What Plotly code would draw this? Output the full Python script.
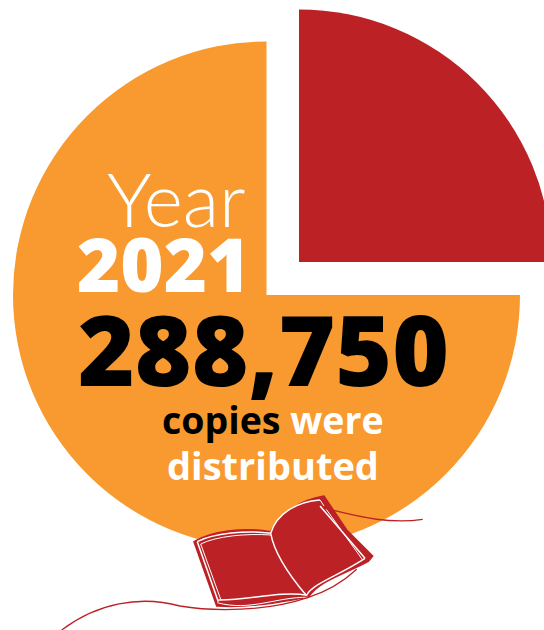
import plotly.graph_objects as go

# Chart data
slice_labels = ["Highlighted quarter", "Rest of the year"]
slice_shares = [25, 75]
year_word = "Year"
year_value = "2021"
copies_total = "288,750"

ORANGE = "#F89A2F"
RED = "#BC2126"
CLEAR = "rgba(0,0,0,0)"
FIG_W, FIG_H = 560, 630


def domain_for(cx, cy, r):
    """Pie domain for a circle given in page pixels."""
    return dict(x=[(cx - r) / FIG_W, (cx + r) / FIG_W],
                y=[1 - (cy + r) / FIG_H, 1 - (cy - r) / FIG_H])


def pie(colours, cx, cy, r):
    return go.Pie(labels=slice_labels, values=slice_shares, sort=False, direction="clockwise",
                  rotation=0, textinfo="none", hoverinfo="label+percent", showlegend=False,
                  marker=dict(colors=colours, line=dict(width=0)),
                  domain=domain_for(cx, cy, r))


def pt(p):
    # Book artwork is sketched in a local grid at 3 units per pixel
    return f"{180 + p[0] / 3:.1f},{480 + p[1] / 3:.1f}"


def path(start, *segments, close=False):
    d = "M" + pt(start)
    for seg in segments:
        if len(seg) == 3 and isinstance(seg[0], tuple):
            d += " C" + " ".join(pt(s) for s in seg)
        else:
            d += " L" + pt(seg)
    return d + (" Z" if close else "")


def stroke(d, colour, width):
    return dict(type="path", xref="x", yref="y", path=d, line=dict(color=colour, width=width))


cover = path((42, 185), ((90, 155), (190, 140), (272, 155)),
             ((300, 100), (360, 60), (432, 48)),
             (500, 150), (578, 228), (566, 243),
             ((500, 280), (420, 300), (385, 352)),
             ((300, 365), (210, 385), (110, 378)), close=True)

shapes = [
    dict(type="path", xref="x", yref="y", path=cover, fillcolor=RED, line=dict(color=RED, width=1.5)),
    # Page edges
    stroke(path((52, 185), ((100, 160), (200, 150), (272, 160))), "white", 1.5),
    stroke(path((62, 192), ((110, 168), (200, 160), (272, 165))), "white", 1),
    stroke(path((52, 185), (115, 365)), "white", 1.5),
    stroke(path((62, 192), (122, 358)), "white", 1),
    stroke(path((115, 360), ((200, 362), (300, 332), (382, 346))), "white", 1.5),
    stroke(path((112, 368), ((210, 395), (290, 350), (385, 352))), "white", 1),
    stroke(path((272, 160), ((285, 230), (340, 300), (378, 345))), "white", 1.5),
    stroke(path((272, 160), ((290, 100), (350, 65), (420, 60))), "white", 1.5),
    stroke(path((420, 60), (432, 78)), "white", 1),
    stroke(path((420, 78), (555, 235)), "white", 1.5),
    stroke(path((436, 84), (548, 240)), "white", 1),
    stroke(path((380, 345), ((400, 310), (470, 290), (555, 235))), "white", 1.5),
    # Ribbon threads
    stroke(path((435, 85), ((520, 105), (620, 135), (728, 118))), RED, 1.3),
    stroke(path((-355, 450), ((-250, 370), (-120, 345), (0, 378)),
                ((100, 395), (260, 395), (385, 352)),
                ((440, 335), (490, 305), (530, 268))), RED, 1.3),
]


def label(text, x, y, size, colour, weight=700, family="Open Sans"):
    return dict(text=text, x=x, y=y, xref="x", yref="y", xanchor="center", yanchor="middle",
                showarrow=False, font=dict(family=family, size=size, color=colour, weight=weight))


annotations = [
    label(year_word, 176, 198, 75, "white", weight=300, family="Lato"),
    label(year_value, 163, 263, 74, "white", weight=800),
    label(copies_total, 263, 348, 97, "black", weight=800),
    label('copies <span style="color:white">were</span>', 272.5, 419, 37.5, "black"),
    label("distributed", 273, 465, 38, "white"),
]

fig = go.Figure([
    pie([CLEAR, ORANGE], 266.5, 295, 253.5),
    pie([RED, CLEAR], 299, 262, 252.5),
])
fig.add_trace(go.Scatter(x=[], y=[], hoverinfo="skip", showlegend=False))
fig.update_layout(
    width=FIG_W, height=FIG_H, margin=dict(l=0, r=0, t=0, b=0),
    paper_bgcolor="white", plot_bgcolor=CLEAR,
    xaxis=dict(visible=False, range=[0, FIG_W], fixedrange=True),
    yaxis=dict(visible=False, range=[FIG_H, 0], fixedrange=True),
    shapes=shapes, annotations=annotations,
)
fig.write_html("out.html", post_script="document.documentElement.style.overflow='hidden';document.body.style.overflow='hidden';")
